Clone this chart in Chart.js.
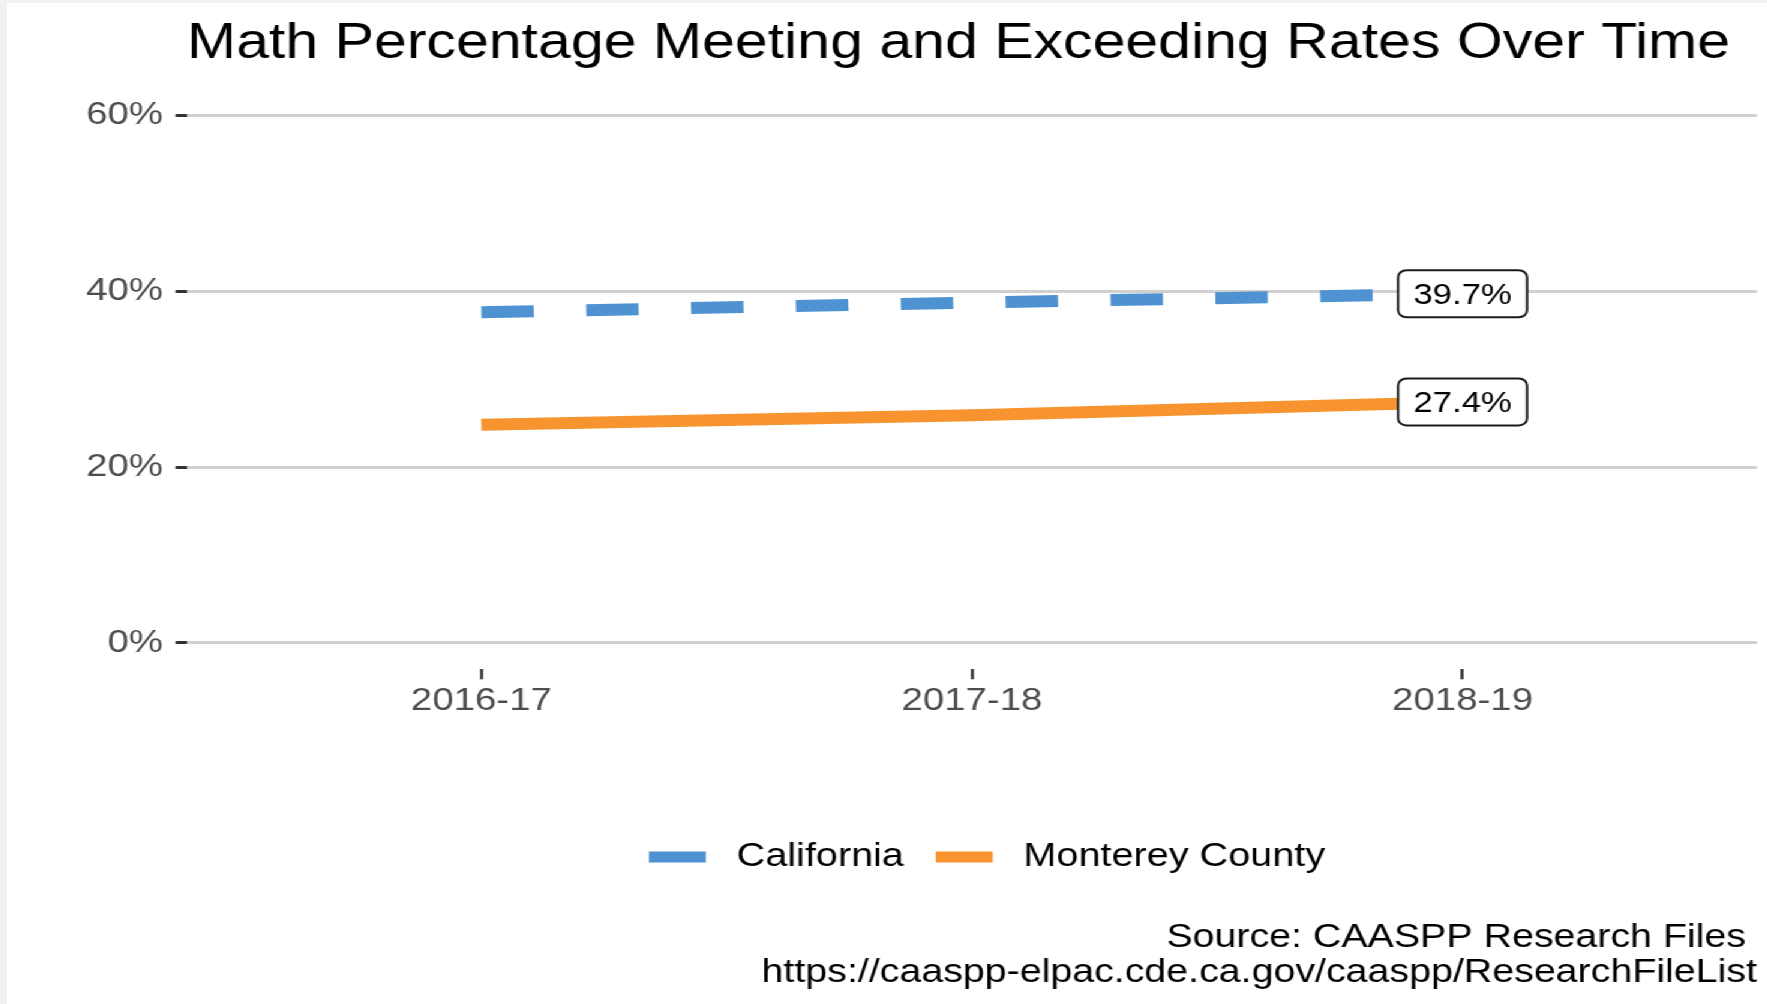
<!DOCTYPE html>
<html>
<head>
<meta charset="utf-8">
<script src="https://cdn.jsdelivr.net/npm/chart.js@4/dist/chart.umd.min.js"></script>
<style>
    html, body { margin: 0; padding: 0; background: #f2f2f2; overflow: hidden; }
    #wrap { position: absolute; left: 7px; top: 3px; width: 1467px; height: 1001px; background: #ffffff;
            transform: scaleX(1.2); transform-origin: 0 0; }
</style>
</head>
<body>
<div id="wrap"><canvas id="mathChart" width="1467" height="1001"></canvas></div>
<script>
const years = ['2016-17', '2017-18', '2018-19'];
const californiaRates = [37.6, 38.7, 39.7];
const montereyRates = [24.8, 25.9, 27.4];
const yTicks = [0, 20, 40, 60];
const captionLines = ['Source: CAASPP Research Files ', 'https://caaspp-elpac.cde.ca.gov/caaspp/ResearchFileList'];

const FONT = "'Liberation Sans', Arial, Helvetica, sans-serif";

// boxed value label at the last point of each line
const endLabels = {
    id: 'endLabels',
    afterDatasetsDraw(chart) {
        const { ctx, scales: { x, y } } = chart;
        chart.data.datasets.forEach(ds => {
            const last = ds.data[ds.data.length - 1];
            const px = x.getPixelForValue(last.x);
            const py = y.getPixelForValue(last.y);
            const w = 107.5, h = 47;
            ctx.save();
            ctx.beginPath();
            ctx.roundRect(px - w / 2, py - h / 2, w, h, 7);
            ctx.fillStyle = '#ffffff';
            ctx.fill();
            ctx.lineWidth = 2;
            ctx.strokeStyle = '#1a1a1a';
            ctx.stroke();
            ctx.fillStyle = '#000000';
            ctx.font = '29px ' + FONT;
            ctx.textAlign = 'center';
            ctx.textBaseline = 'middle';
            ctx.fillText(last.y.toFixed(1) + '%', px, py + 2);
            ctx.restore();
        });
    }
};

// nudge the legend a little to the right, like the original
const legendShift = {
    id: 'legendShift',
    afterLayout(chart) {
        chart.legend.left += 12.5;
        chart.legend.right += 12.5;
    }
};

const ctx = document.getElementById('mathChart').getContext('2d');
new Chart(ctx, {
    type: 'line',
    data: {
        datasets: [{
            label: 'California',
            data: years.map((yr, i) => ({ x: i, y: californiaRates[i] })),
            borderColor: '#4e92d1',
            backgroundColor: '#4e92d1',
            borderWidth: 12,
            borderDash: [43.7, 43.7],
            borderCapStyle: 'butt',
            pointRadius: 0,
            fill: false,
        }, {
            label: 'Monterey County',
            data: years.map((yr, i) => ({ x: i, y: montereyRates[i] })),
            borderColor: '#f7942f',
            backgroundColor: '#f7942f',
            borderWidth: 12,
            borderCapStyle: 'butt',
            pointRadius: 0,
            fill: false,
        }]
    },
    options: {
        responsive: false,
        animation: false,
        devicePixelRatio: 1,
        layout: {
            padding: { left: 0, right: 8.7, top: 0, bottom: 0 }
        },
        scales: {
            x: {
                type: 'linear',
                min: -0.6,
                max: 2.6,
                afterBuildTicks: axis => { axis.ticks = years.map((yr, i) => ({ value: i })); },
                afterFit: axis => { axis.height = 144.7; },
                ticks: {
                    callback: value => years[value],
                    color: '#4d4d4d',
                    font: { family: FONT, size: 32 },
                    padding: 3,
                    maxRotation: 0,
                    autoSkip: false
                },
                grid: {
                    drawOnChartArea: false,
                    drawTicks: true,
                    tickLength: 10,
                    tickColor: '#333333',
                    tickWidth: 2.5
                },
                border: { display: false }
            },
            y: {
                min: -3,
                max: 63,
                afterBuildTicks: axis => { axis.ticks = yTicks.map(v => ({ value: v })); },
                afterFit: axis => { axis.width = 150; },
                ticks: {
                    callback: value => value + '%',
                    color: '#4d4d4d',
                    font: { family: FONT, size: 32 },
                    padding: 10.5
                },
                grid: {
                    color: '#d0d0d0',
                    lineWidth: 3,
                    tickLength: 9.5,
                    tickColor: '#333333',
                    tickWidth: 3
                },
                border: { display: false }
            }
        },
        plugins: {
            title: {
                display: true,
                text: 'Math Percentage Meeting and Exceeding Rates Over Time',
                align: 'start',
                fullSize: false,
                color: '#000000',
                font: { family: FONT, size: 49.2, weight: 'normal' },
                padding: { top: 12.2, bottom: 14.6 }
            },
            subtitle: {
                display: true,
                text: captionLines,
                position: 'bottom',
                align: 'end',
                fullSize: false,
                color: '#000000',
                font: { family: FONT, size: 32.8, lineHeight: 35 / 32.8 },
                padding: { top: 37, bottom: 13.5 }
            },
            legend: {
                position: 'bottom',
                fullSize: false,
                labels: {
                    color: '#000000',
                    font: { family: FONT, size: 33 },
                    boxWidth: 47.5,
                    boxHeight: 11,
                    padding: 26.5,
                    generateLabels: chart => chart.data.datasets.map((ds, i) => ({
                        text: ' ' + ds.label,
                        fillStyle: ds.borderColor,
                        strokeStyle: ds.borderColor,
                        lineWidth: 0,
                        fontColor: '#000000',
                        datasetIndex: i
                    }))
                }
            },
            tooltip: { enabled: false }
        }
    },
    plugins: [endLabels, legendShift]
});
</script>
</body>
</html>
